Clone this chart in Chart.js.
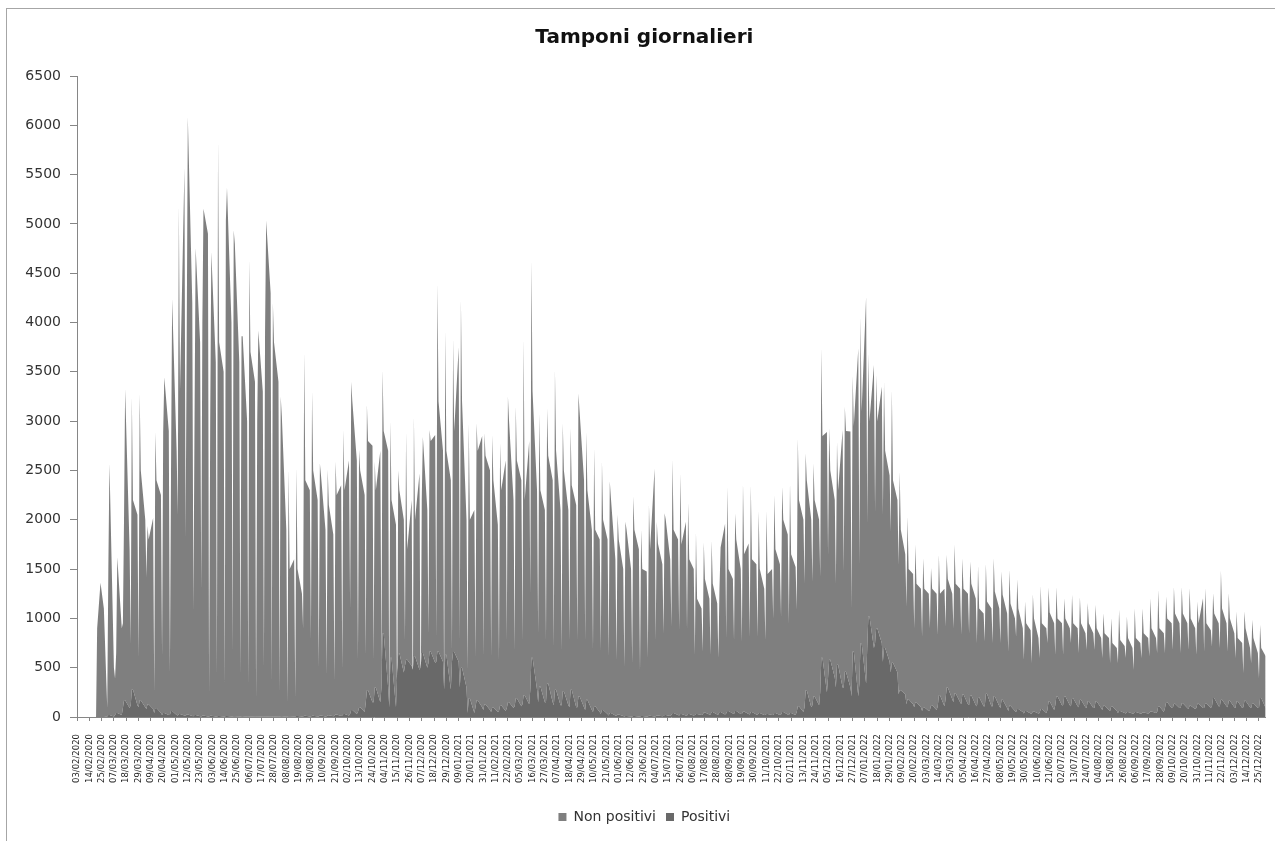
<!DOCTYPE html>
<html lang="it">
<head>
<meta charset="utf-8">
<title>Tamponi giornalieri</title>
<script src="https://cdn.jsdelivr.net/npm/chart.js@4"></script>
<style>
    html, body { margin: 0; height: 100%; background: #fff; overflow: hidden; }
    #frame { position: absolute; left: 6px; top: 8px; width: 1290px; height: 860px;
             border-left: 1px solid #a6a6a6; border-top: 1px solid #a6a6a6; }
    canvas { display: block; }
</style>
</head>
<body>
<div id="frame"><canvas id="chartTamponi" width="1277" height="845"></canvas></div>
<script>
// ── Dati ───────────────────────────────────────────────────────
// giorni contati dal 03/02/2020 (primo tick dell'asse)
const avvioGiorni = [17, 18, 21, 24];
const avvioTotali = [0, 900, 1362, 1100];
const avvioPositivi = [0, 0, 0, 0];
const primaDomenica = 27;

// totale tamponi: domenica, lunedì, martedì, sabato di ogni settimana
const domenica = [
    90,390,950,746,607,1420,250,627,450,2056,
    1818,1080,1300,250,430,350,670,430,330,190,
    510,370,250,150,200,900,790,510,430,370,
    490,1100,590,630,590,500,120,344,780,410,
    380,850,820,300,680,780,480,615,615,615,
    580,780,680,780,1256,850,780,710,680,780,
    780,780,680,680,615,580,513,547,463,600,
    780,850,920,885,885,630,665,630,600,800,
    780,765,815,815,780,1000,1020,950,1087,1357,
    1374,1425,1645,1357,1476,1104,1543,1965,2083,2050,
    1881,1543,1121,901,817,901,834,918,901,834,
    850,750,767,750,750,665,817,581,547,598,
    750,632,632,750,648,682,682,598,547,547,
    600,480,598,615,648,648,682,648,682,632,
    665,716,700,665,598,446,547,395,
];
const lunedi = [
    1500,650,2000,3247,3280,1937,2890,2890,2500,5190,
    3800,3000,4000,3000,5848,5034,4935,3860,4640,3000,
    3900,4200,3250,2510,2530,3700,3300,2570,2510,2590,
    2910,3400,2710,3170,2590,3520,3000,2500,2890,3050,
    2200,2910,4400,3920,3840,4230,2980,2980,2880,2860,
    2775,3250,3150,3840,4630,3080,3130,3520,2980,2930,
    3280,2890,2725,2590,2390,2050,1980,2235,1900,2150,
    1980,2065,2610,2470,2170,1870,1770,1787,1300,2335,
    2066,2370,2350,2090,2090,2250,2335,2370,2825,2675,
    2570,3740,2930,2793,3147,3460,4059,3688,3468,3400,
    3316,2489,2033,1750,1610,1510,1645,1645,1750,1610,
    1577,1533,1553,1610,1475,1492,1398,1172,1246,1330,
    1313,1317,1205,1240,1216,1155,1138,1053,1003,1087,
    1020,1104,1104,1205,1290,1222,1317,1317,1307,1172,
    1307,1256,1486,1256,1070,1070,986,935,
];
const martedi = [
    2570,1620,3327,2200,2500,1800,2400,3446,4240,3300,
    6086,4756,5153,4716,3800,5370,4800,3860,3700,3920,
    5034,3800,3050,1500,1500,2400,2500,2450,2150,2250,
    2300,3200,2500,2800,2300,2900,2200,2300,1700,2000,
    2840,2800,3200,2700,2900,3200,2000,2700,2650,2400,
    2300,3000,2600,2200,3300,2300,2650,2700,2500,2350,
    3100,2300,1900,2000,2220,1800,1900,1900,1500,1700,
    1760,2000,1900,1750,1600,1200,1400,1350,1720,1500,
    1800,1650,1600,1500,1450,1700,2000,1650,2200,2400,
    2200,2850,2500,2300,2900,2950,3100,3000,3000,2700,
    2400,1900,1500,1350,1300,1300,1250,1400,1350,1300,
    1350,1100,1172,1273,1240,1150,1100,950,1000,950,
    1060,1000,1000,950,950,950,900,850,750,780,
    800,800,850,900,900,1000,1050,1050,1000,950,
    950,1050,1100,1000,800,900,800,700,
];
const sabato = [
    500,900,1700,2050,2000,2017,2250,2900,2700,5570,
    4200,3800,4900,3600,3500,4000,3600,3000,3400,3300,
    4300,3400,1900,1600,1250,2300,2200,1900,1850,2350,
    2600,2600,2250,2750,2700,2700,1950,2000,2200,2470,
    2100,2860,2700,2400,3750,2000,2100,2850,2500,1950,
    2600,2200,2400,2800,2300,2100,2400,2100,2100,2150,
    2400,1900,1800,1800,1600,1500,1500,1700,1475,2520,
    1550,1600,1800,1980,1500,1100,1200,1150,1960,1400,
    1500,1760,1550,1300,1500,1550,1850,1520,2000,2000,
    2000,2890,2200,2911,2894,3738,4262,3570,3350,2450,
    2200,1650,1450,1300,1250,1250,1300,1250,1300,1250,
    1200,1050,1100,1100,1050,1000,900,880,800,900,
    950,950,900,900,850,850,800,800,700,720,
    700,750,800,800,850,950,950,950,900,1205,
    880,950,950,850,750,700,650,615,
];

// positivi: massimo e minimo di ogni settimana
const positiviMax = [
    20,40,170,280,170,130,90,40,60,30,
    25,20,15,12,10,10,8,8,6,6,
    6,6,8,8,10,12,12,14,18,25,
    30,70,100,270,300,850,600,650,580,615,
    650,665,665,630,660,500,190,170,130,100,
    120,150,190,220,600,310,340,277,260,277,
    210,175,110,70,40,25,10,10,10,12,
    15,20,40,30,30,30,45,50,50,60,
    60,55,50,40,30,40,50,40,110,270,
    210,600,580,530,460,665,750,1020,900,700,
    550,270,180,150,100,120,220,300,240,230,
    220,200,236,210,175,115,80,60,55,80,
    160,210,210,190,175,160,160,115,108,60,
    50,50,45,55,110,150,135,140,115,135,
    140,192,175,165,160,165,140,192,
];
const positiviMin = [
    5,20,90,120,100,80,40,20,20,15,
    10,8,5,5,5,4,4,3,3,3,
    3,3,3,4,5,6,6,6,8,10,
    15,30,50,150,150,300,100,450,520,480,
    500,550,560,280,560,300,40,100,70,50,
    60,90,110,130,280,150,150,120,120,100,
    100,70,50,30,15,10,5,5,5,5,
    8,10,20,15,15,20,25,25,25,35,
    30,30,25,20,20,20,25,20,50,100,
    120,250,400,300,300,210,340,700,750,560,
    450,230,130,100,60,70,110,180,150,130,
    120,110,110,110,90,60,50,35,35,40,
    70,120,120,110,100,90,90,70,60,40,
    35,35,35,40,50,90,90,90,80,90,
    90,110,110,100,90,100,90,90,
];

const tickLabels = [
    '03/02/2020','14/02/2020','25/02/2020','07/03/2020','18/03/2020','29/03/2020','09/04/2020','20/04/2020',
    '01/05/2020','12/05/2020','23/05/2020','03/06/2020','14/06/2020','25/06/2020','06/07/2020','17/07/2020',
    '28/07/2020','08/08/2020','19/08/2020','30/08/2020','10/09/2020','21/09/2020','02/10/2020','13/10/2020',
    '24/10/2020','04/11/2020','15/11/2020','26/11/2020','07/12/2020','18/12/2020','29/12/2020','09/01/2021',
    '20/01/2021','31/01/2021','11/02/2021','22/02/2021','05/03/2021','16/03/2021','27/03/2021','07/04/2021',
    '18/04/2021','29/04/2021','10/05/2021','21/05/2021','01/06/2021','12/06/2021','23/06/2021','04/07/2021',
    '15/07/2021','26/07/2021','06/08/2021','17/08/2021','28/08/2021','08/09/2021','19/09/2021','30/09/2021',
    '11/10/2021','22/10/2021','02/11/2021','13/11/2021','24/11/2021','05/12/2021','16/12/2021','27/12/2021',
    '07/01/2022','18/01/2022','29/01/2022','09/02/2022','20/02/2022','03/03/2022','14/03/2022','25/03/2022',
    '05/04/2022','16/04/2022','27/04/2022','08/05/2022','19/05/2022','30/05/2022','10/06/2022','21/06/2022',
    '02/07/2022','13/07/2022','24/07/2022','04/08/2022','15/08/2022','26/08/2022','06/09/2022','17/09/2022',
    '28/09/2022','09/10/2022','20/10/2022','31/10/2022','11/11/2022','22/11/2022','03/12/2022','14/12/2022',
    '25/12/2022',
];

// ── Serie per Chart.js ─────────────────────────────────────────
const giorni = [...avvioGiorni];
const totali = [...avvioTotali];
const positivi = [...avvioPositivi];
domenica.forEach((v, k) => {
    const s = primaDomenica + 7 * k;
    giorni.push(s, s + 1, s + 2, s + 6);
    totali.push(v, lunedi[k], martedi[k], sabato[k]);
    positivi.push(positiviMin[k], positiviMax[k], positiviMax[k], positiviMin[k]);
});
const puntiPositivi = giorni.map((g, i) => ({ x: g, y: positivi[i] }));
const puntiNonPositivi = giorni.map((g, i) => ({ x: g, y: totali[i] - positivi[i] }));

const FONT = 'DejaVu Sans';
const AXIS = '#868686';

new Chart(document.getElementById('chartTamponi'), {
    type: 'line',
    data: {
        datasets: [
            { label: 'Positivi', data: puntiPositivi, backgroundColor: '#696969', borderWidth: 0, pointRadius: 0, fill: 'origin', tension: 0 },
            { label: 'Non positivi', data: puntiNonPositivi, backgroundColor: '#7f7f7f', borderWidth: 0, pointRadius: 0, fill: '-1', tension: 0 },
        ],
    },
    options: {
        responsive: false,
        animation: false,
        // padding asimmetrico: titolo e legenda sono centrati sul riquadro, non sul grafico
        layout: { padding: { left: 16, right: 18.3, top: 0, bottom: 20 } },
        plugins: {
            title: {
                display: true,
                text: 'Tamponi giornalieri',
                color: '#111',
                font: { family: FONT, size: 20, weight: 'bold' },
                padding: { top: 17, bottom: 26 },
            },
            legend: {
                position: 'bottom',
                reverse: true,
                labels: { color: '#333', font: { family: FONT, size: 14 }, boxWidth: 8, boxHeight: 8, padding: 10 },
            },
            tooltip: { enabled: false },
        },
        scales: {
            x: {
                type: 'linear',
                min: 0,
                max: 1062,
                border: { color: AXIS },
                grid: { drawOnChartArea: false, color: AXIS, tickLength: 4 },
                afterFit: s => { s.height = 83; },
                ticks: {
                    stepSize: 11,
                    includeBounds: false,
                    autoSkip: false,
                    minRotation: 90,
                    maxRotation: 90,
                    padding: 13,
                    color: '#222',
                    font: { family: FONT, size: 8.5 },
                    callback: v => tickLabels[Math.round(v / 11)],
                },
            },
            y: {
                stacked: true,
                min: 0,
                max: 6500,
                border: { color: AXIS },
                grid: { drawOnChartArea: false, color: AXIS, tickLength: 7 },
                afterFit: s => { s.width = 54; },
                ticks: {
                    stepSize: 500,
                    color: '#333',
                    font: { family: FONT, size: 14 },
                    padding: 9,
                    callback: v => String(v),
                },
            },
        },
    },
});
</script>
</body>
</html>
